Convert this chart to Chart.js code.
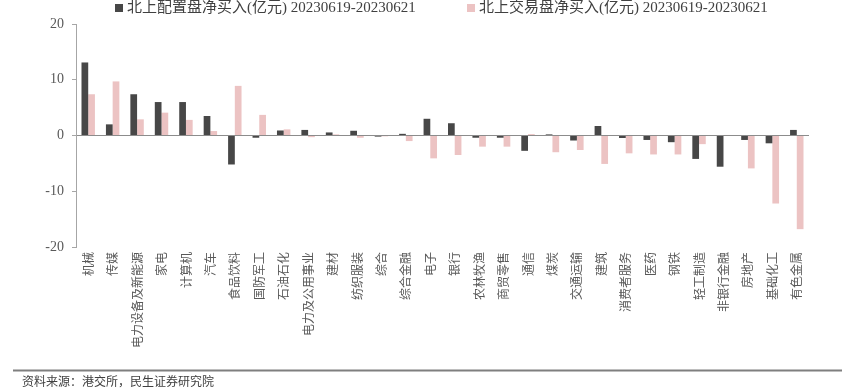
<!DOCTYPE html>
<html>
<head>
<meta charset="utf-8">
<script src="https://cdn.jsdelivr.net/npm/chart.js@4.4.0/dist/chart.umd.min.js"></script>
<style>
  body { margin: 0; background: #fff; }
  #wrap { width: 854px; height: 391px; position: relative; }
</style>
</head>
<body>
<div id="wrap"><canvas id="c"></canvas></div>
<script>
// 行业
var categories = ['机械','传媒','电力设备及新能源','家电','计算机','汽车','食品饮料','国防军工','石油石化','电力及公用事业',
    '建材','纺织服装','综合','综合金融','电子','银行','农林牧渔','商贸零售','通信','煤炭',
    '交通运输','建筑','消费者服务','医药','钢铁','轻工制造','非银行金融','房地产','基础化工','有色金属'];

// 北上配置盘净买入(亿元)
var peizhi = [13.1, 2.0, 7.4, 6.0, 6.0, 3.5, -5.2, -0.4, 0.9, 1.0,
    0.55, 0.85, -0.2, 0.3, 3.0, 2.2, -0.4, -0.4, -2.75, 0.2,
    -0.9, 1.7, -0.45, -0.8, -1.2, -4.2, -5.6, -0.8, -1.4, 1.0];

// 北上交易盘净买入(亿元)
var jiaoyi = [7.4, 9.7, 2.9, 4.1, 2.8, 0.8, 8.9, 3.7, 1.1, -0.3,
    0.2, -0.4, -0.15, -1.0, -4.1, -3.5, -2.0, -2.0, 0.25, -3.0,
    -2.6, -5.1, -3.2, -3.4, -3.4, -1.55, 0.1, -5.9, -12.2, -16.8];

var yTicks = [20, 10, 0, -10, -20];
var source = '资料来源：港交所，民生证券研究院';

var serif = '"Liberation Serif", "Noto Sans CJK SC", serif';
var cjk = '"Noto Sans CJK SC", sans-serif';

// legend + footer drawn by hand, spacing of the original is too wide for the built-in legend
var extras = {
    id: 'extras',
    afterDraw: function(chart) {
        var ctx = chart.ctx;
        ctx.save();
        var xs = [115, 467];
        chart.data.datasets.forEach(function(ds, i) {
            ctx.fillStyle = ds.backgroundColor;
            ctx.fillRect(xs[i], 4, 8, 8);
            ctx.fillStyle = '#404040';
            ctx.font = '15px ' + serif;
            ctx.textBaseline = 'middle';
            ctx.textAlign = 'left';
            ctx.fillText(ds.label, xs[i] + 12, 8);
        });
        ctx.strokeStyle = '#7f7f7f';
        ctx.lineWidth = 2;
        ctx.beginPath();
        ctx.moveTo(13, 370.5);
        ctx.lineTo(842, 370.5);
        ctx.stroke();
        ctx.fillStyle = '#404040';
        ctx.font = '12px ' + cjk;
        ctx.textBaseline = 'middle';
        ctx.fillText(source, 22, 381);
        ctx.restore();
    }
};

var ctx = document.getElementById('c').getContext('2d');
var myChart = new Chart(ctx, {
    type: 'bar',
    data: {
        labels: categories,
        datasets: [{
            label: '北上配置盘净买入(亿元) 20230619-20230621',
            data: peizhi,
            backgroundColor: '#474747'
        },
        {
            label: '北上交易盘净买入(亿元) 20230619-20230621',
            data: jiaoyi,
            backgroundColor: '#ecc3c3'
        }]
    },
    options: {
        responsive: true,
        maintainAspectRatio: false,
        animation: false,
        datasets: {
            bar: { categoryPercentage: 0.55, barPercentage: 1.0 }
        },
        layout: { padding: { top: 24, right: 45, bottom: 44, left: 0 } },
        plugins: {
            legend: { display: false },
            tooltip: { enabled: false }
        },
        scales: {
            x: {
                grid: { display: false, drawTicks: false },
                border: { display: false },
                ticks: {
                    autoSkip: false,
                    minRotation: 90,
                    maxRotation: 90,
                    padding: 5,
                    color: '#595959',
                    font: { family: cjk, size: 12 }
                },
                afterFit: function(scale) { scale.height = 100; }
            },
            y: {
                min: -20,
                max: 20,
                afterBuildTicks: function(scale) {
                    scale.ticks = yTicks.map(function(v) { return { value: v }; });
                },
                grid: {
                    color: function(c) { return c.tick && c.tick.value === 0 ? '#8c8c8c' : 'rgba(0,0,0,0)'; },
                    tickColor: '#a6a6a6',
                    tickLength: 4
                },
                border: { display: true, color: '#a6a6a6' },
                ticks: {
                    padding: 8,
                    color: '#595959',
                    font: { family: serif, size: 14 }
                },
                afterFit: function(scale) { scale.width = 76; }
            }
        }
    },
    plugins: [extras]
});
</script>
</body>
</html>
